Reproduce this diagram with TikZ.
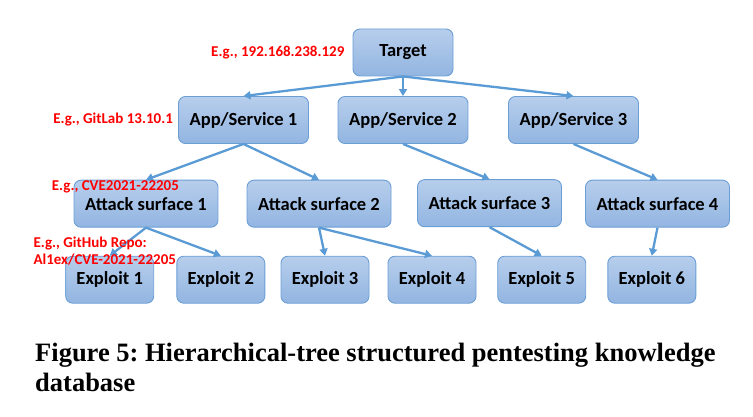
\documentclass[tikz,border=0pt]{standalone}
\usepackage{fontspec}
\setsansfont{Carlito}
\newfontfamily\capfont{Liberation Serif}
\usepackage{tikz}
\usetikzlibrary{
    positioning,
    arrows.meta,
    shapes
}
\definecolor{BoxTop}{RGB}{183,206,236}
\definecolor{BoxBottom}{RGB}{146,181,225}
\definecolor{BoxEdge}{RGB}{108,158,214}
\definecolor{LinkBlue}{RGB}{91,155,213}
\definecolor{NoteRed}{RGB}{255,0,0}
\tikzset{
    item/.style={draw=BoxEdge, line width=0.9pt, rounded corners=7pt, top color=BoxTop, bottom color=BoxBottom,
        minimum height=47pt, inner sep=0pt, font=\sffamily\bfseries\fontsize{18.5}{21}\selectfont, text=black},
    top/.style={item, minimum width=100pt},
    app/.style={item, minimum width=130pt},
    surf/.style={item, minimum width=144pt},
    expl/.style={item, minimum width=88pt},
    note/.style={font=\sffamily\bfseries\fontsize{15}{16.7}\selectfont, text=NoteRed, inner sep=0pt, align=left},
    link/.style={-{Triangle[length=7pt,width=8pt]}, line width=2.3pt, draw=LinkBlue}
}
\begin{document}
\begin{tikzpicture}[x=1pt, y=-1pt]
                    \useasboundingbox (0,0) rectangle (753,417);
                    \node[top] (target) at (403,52.5) {Target};
                    \node[note] [left=8pt of target] {E.g., 192.168.238.129};
                    \node[app] (app1) at (243.5,120) {App/Service 1};
                    \node[app] (app2) at (403,120) {App/Service 2};
                    \node[app] (app3) at (573.5,120) {App/Service 3};
                    \node[note] [left=5pt of app1] {E.g., GitLab 13.10.1};
                    \draw[link] (target.south) -- (app1.north);
                    \draw[link] (target.south) -- (app2.north);
                    \draw[link] (target.south) -- (app3.north);
                    \node[surf] (surf1) at (146,203.7) {Attack surface 1};
                    \node[surf] (surf2) at (319,203.7) {Attack surface 2};
                    \node[surf] (surf3) at (489.5,203.2) {Attack surface 3};
                    \node[surf] (surf4) at (657.5,203.7) {Attack surface 4};
                    \draw[link] (app1.south) -- (surf1.north);
                    \draw[link] (app1.south) -- (surf2.north);
                    \draw[link] (app2.south) -- (surf3.north);
                    \draw[link] (app3.south) -- (surf4.north);
                    \node[expl] (expl1) at (109.7,279.7) {Exploit 1};
                    \node[expl] (expl2) at (220.8,279.7) {Exploit 2};
                    \node[expl] (expl3) at (325,279.7) {Exploit 3};
                    \node[expl] (expl4) at (432,279.7) {Exploit 4};
                    \node[expl] (expl5) at (541.7,279.7) {Exploit 5};
                    \node[expl] (expl6) at (651.8,279.7) {Exploit 6};
                    \draw[link] (surf1.south) -- (expl1.north);
                    \draw[link] (surf1.south) -- (expl2.north);
                    \draw[link] (surf2.south) -- (expl3.north);
                    \draw[link] (surf2.south) -- (expl4.north);
                    \draw[link] (surf3.south) -- (expl5.north);
                    \draw[link] (surf4.south) -- (expl6.north);
                    % red examples over the lower rows
                    \node[note, anchor=west] (cve) at (51.7,186.7) {E.g., CVE2021-22205};
                    \node[note, anchor=north west] (repo) at (33.3,237) {E.g., GitHub Repo:\\Al1ex/CVE-2021-22205};
                    % caption (base = last line)
                    \node[anchor=base west, inner sep=0pt, align=left, font=\capfont\bfseries\fontsize{26.5}{29.5}\selectfont] (caption) at (35,391)
                        {\frenchspacing Figure 5: Hierarchical-tree structured pentesting knowledge\\database};
                \end{tikzpicture}
\end{document}
